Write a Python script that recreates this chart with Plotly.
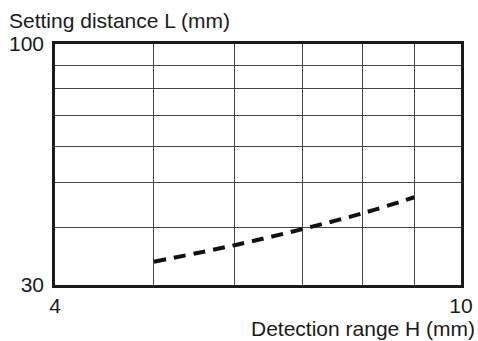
import plotly.graph_objs as go

# (log-log axes)
detection_range = [5, 6, 7, 8, 9]
setting_distance = [33.7, 36.6, 39.7, 42.9, 46.5]

x_ticks = [4, 5, 6, 7, 8, 9, 10]
x_labels = ['4', '', '', '', '', '', '10']
y_ticks = [30, 40, 50, 60, 70, 80, 90, 100]
y_labels = ['30', '', '', '', '', '', '', '100']

FONT = 'Liberation Sans, Arial, sans-serif'
INK = '#1a1a1a'

fig = go.Figure()
fig.add_trace(
    go.Scatter(
        x = detection_range,
        y = setting_distance,
        mode = 'lines',
        line = dict(color='#111111', width=4, dash='12px,8px', shape='spline'),
        showlegend = False,
    )
)

fig.update_layout(
    width = 478,
    height = 341,
    margin = dict(l=55, r=17, t=44, b=56, autoexpand=False),
    paper_bgcolor = 'white',
    plot_bgcolor = 'white',
    font = dict(family=FONT, size=21, color=INK),
    annotations = [
        dict(text='Setting distance L (mm)', xref='paper', yref='paper',
             x=0, y=1, xanchor='left', yanchor='middle', xshift=-48, yshift=24,
             showarrow=False, font=dict(family=FONT, size=21, color=INK)),
        dict(text='Detection range H (mm)', xref='paper', yref='paper',
             x=1, y=0, xanchor='right', yanchor='middle', xshift=16, yshift=-43,
             showarrow=False, font=dict(family=FONT, size=21, color=INK)),
    ],
)

fig.update_xaxes(
    type = 'log',
    range = [0.60206, 1.0],
    tickmode = 'array',
    tickvals = x_ticks,
    ticktext = x_labels,
    showgrid = True,
    gridcolor = '#444444',
    gridwidth = 1,
    showline = True,
    linecolor = INK,
    linewidth = 2.5,
    mirror = True,
    ticks = '',
    zeroline = False,
    automargin = False,
)
fig.update_yaxes(
    type = 'log',
    range = [1.4771, 2.0],
    tickmode = 'array',
    tickvals = y_ticks,
    ticktext = y_labels,
    showgrid = True,
    gridcolor = '#444444',
    gridwidth = 1,
    showline = True,
    linecolor = INK,
    linewidth = 2.5,
    mirror = True,
    ticks = '',
    ticklabelstandoff = 4,
    zeroline = False,
    automargin = False,
)

# drop the default 8px page margin so the figure fills the window
fig.write_html(
    "out.html",
    config = {'displayModeBar': False},
    post_script = "document.body.style.margin='0';",
)
